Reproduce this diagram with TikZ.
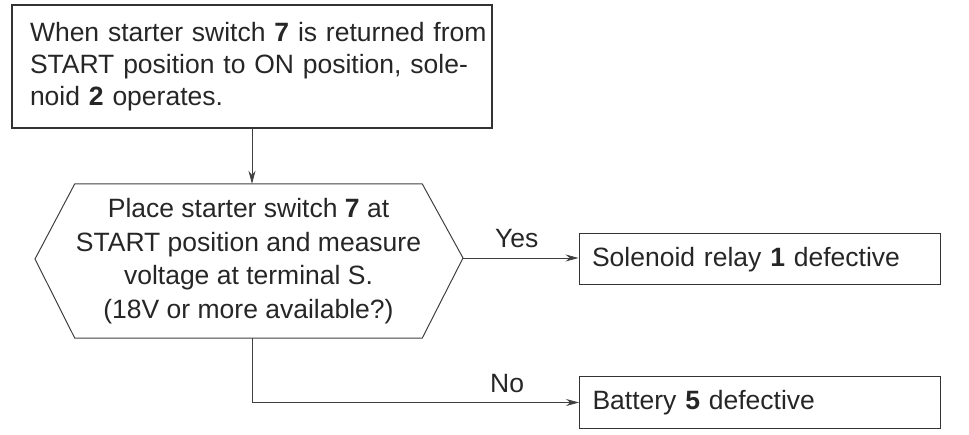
\documentclass[tikz,border=0pt]{standalone}
\usepackage{fontspec}
\setmainfont{Liberation Sans}
\usetikzlibrary{arrows.meta,calc}
\begin{document}
\begin{tikzpicture}[x=1pt,y=-1pt,
  every node/.style={font=\fontsize{26.5}{32}\selectfont, text=black!85},
  conn/.style={draw=black!75, line width=0.8pt},
  arr/.style={conn, -{Stealth[length=13pt,width=7pt]}},
  topbox/.style={draw=black!80, line width=1.6pt, minimum width=480, minimum height=123, text width=444, align=left, inner sep=0pt},
  resbox/.style={draw=black!80, line width=1pt, minimum width=361, minimum height=51, text width=335, align=left, inner sep=0pt},
  hexnode/.style={minimum width=347, minimum height=154, align=center, inner sep=0pt, font=\fontsize{26.5}{33.5}\selectfont},
  lbl/.style={font=\fontsize{26.5}{28}\selectfont}]
\useasboundingbox (0,0) rectangle (969,435);
\node[topbox] (top) at (252,66.5) {\mbox{When starter switch \textbf{7} is returned from}\\\mbox{START position to ON position, sole-}\\noid \textbf{2} operates.};
\node[hexnode] (q) at (248.5,261) {Place starter switch \textbf{7} at\\START position and measure\\voltage at terminal S.\\(18V or more available?)};
\coordinate (qL) at (35,259);
\coordinate (qR) at (463,258);
\draw[black!75, line width=1pt] (q.north west) -- (q.north east) -- (qR) -- (q.south east) -- (q.south west) -- (qL) -- cycle;
\node[resbox] (sol) at (759.5,259.5) {Solenoid relay \textbf{1} defective};
\node[resbox] (bat) at (760,402.5) {Battery \textbf{5} defective};
\draw[arr] (top.south) -- (top.south |- q.north);
\draw[arr] (qR) -- node[lbl, above=7pt, xshift=-4pt] {Yes} (qR -| sol.west);
\coordinate (nb) at (top.south |- q.south);
\coordinate (nc) at (nb |- bat.west);
\draw[arr] (nb) -- (nc) -- node[lbl, above=6pt, pos=0.78] {No} (bat.west);
\end{tikzpicture}
\end{document}
